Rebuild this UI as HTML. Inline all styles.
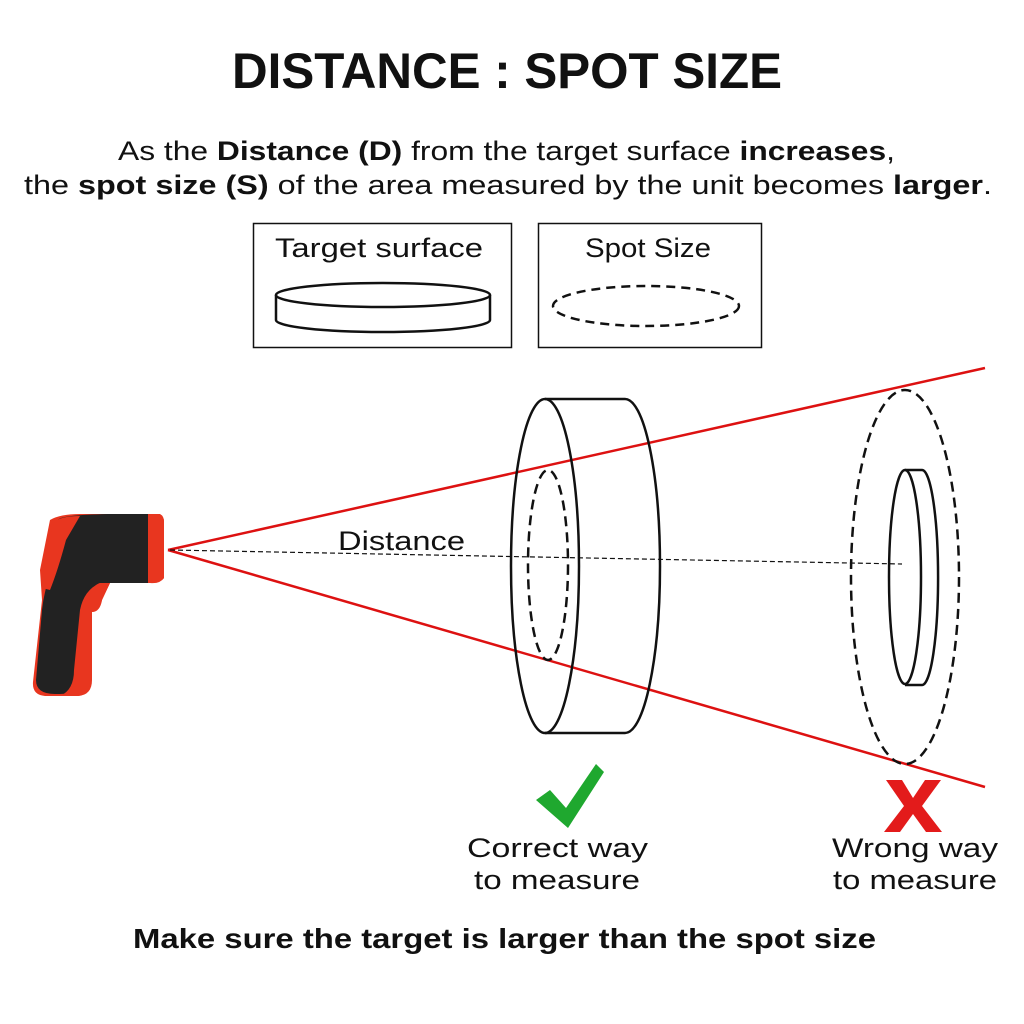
<!DOCTYPE html>
<html><head><style>
body{margin:0;background:#fff;}
svg{display:block}
text{font-family:"Liberation Sans",sans-serif;fill:#111}
</style></head><body>
<svg width="1024" height="1024" viewBox="0 0 1024 1024">
<text x="232" y="88" font-size="50" font-weight="bold" textLength="550" lengthAdjust="spacingAndGlyphs">DISTANCE : SPOT SIZE</text>
<text x="118" y="160" font-size="27" textLength="777" lengthAdjust="spacingAndGlyphs">As the <tspan font-weight="bold">Distance (D)</tspan> from the target surface <tspan font-weight="bold">increases</tspan>,</text>
<text x="24" y="194" font-size="27" textLength="968" lengthAdjust="spacingAndGlyphs">the <tspan font-weight="bold">spot size (S)</tspan> of the area measured by the unit becomes <tspan font-weight="bold">larger</tspan>.</text>
<rect x="253.5" y="223.5" width="258" height="124" fill="none" stroke="#111" stroke-width="1.5"/>
<rect x="538.5" y="223.5" width="223" height="124" fill="none" stroke="#111" stroke-width="1.5"/>
<text x="275" y="257" font-size="27" textLength="208" lengthAdjust="spacingAndGlyphs">Target surface</text>
<text x="585" y="257" font-size="27" textLength="126" lengthAdjust="spacingAndGlyphs">Spot Size</text>
<g fill="none" stroke="#111" stroke-width="2.5">
<path d="M276 295 V320 A107 12 0 0 0 490 320 V295"/>
<ellipse cx="383" cy="295" rx="107" ry="12" fill="#fff"/>
<ellipse cx="646" cy="306" rx="93" ry="20" stroke-dasharray="9 6"/>
</g>
<g stroke="#d11" stroke-width="2.5">
<line x1="168" y1="550" x2="985" y2="368"/>
<line x1="168" y1="550" x2="985" y2="787"/>
</g>
<line x1="170" y1="550" x2="902" y2="564" stroke="#111" stroke-width="1.2" stroke-dasharray="5 3"/>
<text x="338" y="550" font-size="27" textLength="127" lengthAdjust="spacingAndGlyphs">Distance</text>
<g fill="none" stroke="#111" stroke-width="2.5">
<ellipse cx="545" cy="566" rx="34" ry="167"/>
<path d="M545 399 H625 A35 167 0 0 1 625 733 H545"/>
<ellipse cx="548" cy="565" rx="20" ry="95" stroke-dasharray="10 6"/>
<ellipse cx="905" cy="577" rx="54" ry="187" stroke-dasharray="10 6"/>
<path d="M905 470 H922 A16 107 0 0 1 922 685 H905"/>
<ellipse cx="905" cy="577" rx="16" ry="107"/>
</g>
<g>
<path d="M50 520 Q60 514 80 514 L158 514 Q164 515 164 522 L164 578 Q160 584 150 583 L110 583 L102 600 Q100 610 92 612 L92 680 Q92 695 78 696 L45 696 Q32 695 33 682 L42 600 L40 570 Z" fill="#e8361f"/>
<path d="M58 520 Q60 515 108 514 L148 514 L148 583 L100 583 Q92 585 90 600 L80 690 Q76 694 55 694 Q36 694 36 680 L42 610 Q44 590 52 570 Z" fill="#222"/>
<path d="M148 514 L160 514 Q164 516 164 522 L164 578 Q160 583 148 583 Z" fill="#e8361f"/>
<path d="M100 583 L110 583 L102 600 Q100 612 92 612 L90 680 Q90 695 78 696 L60 696 Q74 690 74 670 L80 610 Q84 590 100 583 Z" fill="#e8361f"/>
<path d="M55 522 Q60 516 80 516 L66 540 Q58 570 50 590 L42 588 Q44 550 55 522 Z" fill="#e8361f"/>
</g>
<path d="M536 800 L550 790 L566 808 L596 764 L604 772 L568 828 Z" fill="#1fa82f"/>
<path d="M886 780 L902 780 L913 798 L925 780 L941 780 L922 806 L942 832 L926 832 L913 814 L900 832 L884 832 L904 806 Z" fill="#e31b1b"/>
<text x="467" y="857" font-size="27" textLength="181" lengthAdjust="spacingAndGlyphs">Correct way</text>
<text x="474" y="889" font-size="27" textLength="166" lengthAdjust="spacingAndGlyphs">to measure</text>
<text x="832" y="857" font-size="27" textLength="166" lengthAdjust="spacingAndGlyphs">Wrong way</text>
<text x="833" y="889" font-size="27" textLength="164" lengthAdjust="spacingAndGlyphs">to measure</text>
<text x="133" y="948" font-size="28" font-weight="bold" textLength="743" lengthAdjust="spacingAndGlyphs">Make sure the target is larger than the spot size</text>
</svg>
</body></html>
